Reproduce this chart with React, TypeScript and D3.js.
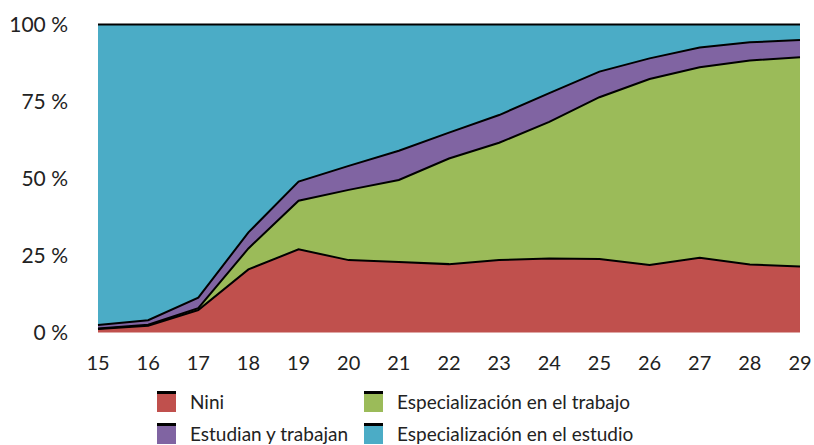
import React, { useEffect, useRef } from "react";
import * as d3 from "d3";

const ages = [15, 16, 17, 18, 19, 20, 21, 22, 23, 24, 25, 26, 27, 28, 29];
const nini = [1.1, 2.2, 7.3, 20.5, 27.0, 23.5, 22.9, 22.2, 23.5, 24.0, 23.9, 21.9, 24.3, 22.1, 21.4];
const trabajo = [0.2, 0.3, 0.6, 6.8, 15.8, 22.8, 26.6, 34.3, 38.1, 44.4, 52.5, 60.4, 61.8, 66.2, 68.0];
const estudianTrabajan = [1.1, 1.5, 3.4, 5.2, 6.2, 7.8, 9.5, 8.4, 9.0, 9.3, 8.3, 6.7, 6.4, 5.9, 5.6];
const estudio = ages.map((_, i) => +(100 - nini[i] - trabajo[i] - estudianTrabajan[i]).toFixed(1));
const yTicks = [0, 25, 50, 75, 100];

const seriesKeys = ["nini", "trabajo", "estudianTrabajan", "estudio"];
const seriesNames = ["Nini", "Especialización en el trabajo", "Estudian y trabajan", "Especialización en el estudio"];
const colors = ["#C0504D", "#9BBB59", "#8064A2", "#4BACC6"];

const App = () => {
  const svgRef = useRef<SVGSVGElement>(null);

  useEffect(() => {
    const svg = d3.select(svgRef.current);
    svg.selectAll("*").remove();
    const font = "Lato, 'Noto Sans', sans-serif";

    const rows = ages.map((a, i) => ({
      age: a,
      nini: nini[i],
      trabajo: trabajo[i],
      estudianTrabajan: estudianTrabajan[i],
      estudio: estudio[i],
    }));

    const x = d3.scaleLinear().domain([15, 29]).range([98, 800]);
    const y = d3.scaleLinear().domain([0, 100]).range([332.5, 24.5]);

    const stacked = d3.stack<any>().keys(seriesKeys)(rows);

    const area = d3
      .area<any>()
      .x((d) => x(d.data.age))
      .y0((d) => y(d[0]))
      .y1((d) => y(d[1]));
    const topLine = d3
      .line<any>()
      .x((d) => x(d.data.age))
      .y((d) => y(d[1]));

    svg
      .append("g")
      .selectAll("path")
      .data(stacked)
      .enter()
      .append("path")
      .attr("d", area)
      .attr("fill", (_, i) => colors[i]);

    svg
      .append("g")
      .selectAll("path")
      .data(stacked)
      .enter()
      .append("path")
      .attr("d", topLine)
      .attr("fill", "none")
      .attr("stroke", "#000")
      .attr("stroke-width", 2);

    // eje y
    svg
      .append("g")
      .selectAll("text")
      .data(yTicks)
      .enter()
      .append("text")
      .attr("x", 68)
      .attr("y", (d) => y(d))
      .attr("dy", "0.35em")
      .attr("text-anchor", "end")
      .attr("font-family", font)
      .attr("font-size", 21)
      .attr("fill", "#222")
      .text((d) => `${d} %`);

    // eje x
    svg
      .append("g")
      .selectAll("text")
      .data(ages)
      .enter()
      .append("text")
      .attr("x", (d) => x(d))
      .attr("y", 363)
      .attr("dy", "0.35em")
      .attr("text-anchor", "middle")
      .attr("font-family", font)
      .attr("font-size", 20)
      .attr("fill", "#222")
      .text((d) => d);

    // leyenda
    const legendPos = [
      [157, 391],
      [364, 391],
      [157, 423],
      [364, 423],
    ];
    const legend = svg
      .append("g")
      .selectAll("g")
      .data(seriesNames)
      .enter()
      .append("g")
      .attr("transform", (_, i) => `translate(${legendPos[i][0]}, ${legendPos[i][1]})`);
    legend
      .append("rect")
      .attr("width", 19)
      .attr("height", 21)
      .attr("fill", (_, i) => colors[i]);
    legend
      .append("rect")
      .attr("width", 19)
      .attr("height", 3)
      .attr("fill", "#000");
    legend
      .append("text")
      .attr("x", 33)
      .attr("y", 11)
      .attr("dy", "0.35em")
      .attr("font-family", font)
      .attr("font-size", 19)
      .attr("fill", "#222")
      .text((d) => d);
  }, []);

  return (
    <svg
      ref={svgRef}
      width={814}
      height={445}
      style={{ position: "absolute", left: 0, top: 0 }}
    />
  );
};

export default App;
